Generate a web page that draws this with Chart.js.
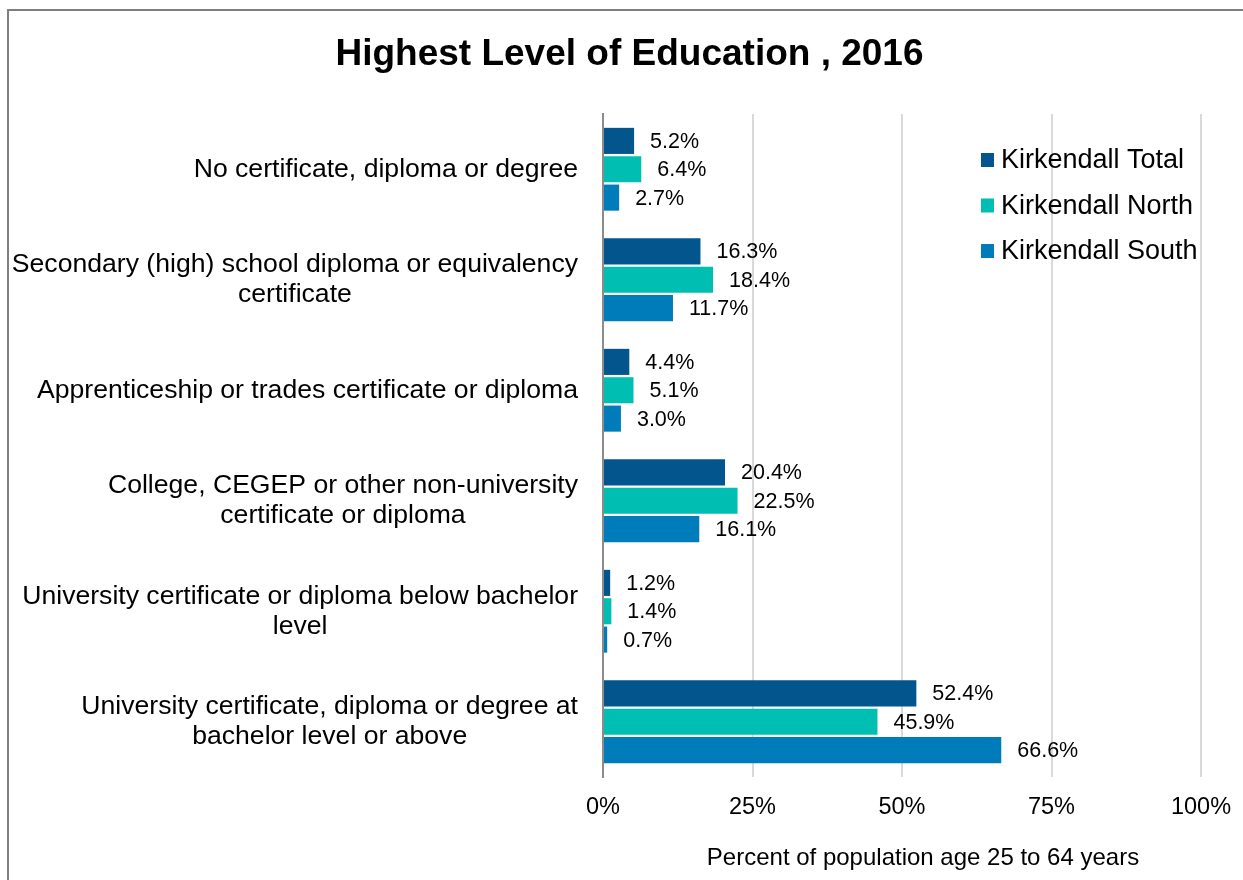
<!DOCTYPE html>
<html>
<head>
<meta charset="utf-8">
<title>Highest Level of Education, 2016</title>
<script src="https://cdn.jsdelivr.net/npm/chart.js@4.4.1/dist/chart.umd.min.js"></script>
<style>
  html, body { margin: 0; padding: 0; background: #fff; }
  #wrap { position: relative; width: 1243px; height: 880px; overflow: hidden; }
  #frame { position: absolute; left: 7px; top: 9px; width: 1400px; height: 1000px;
           border-left: 2px solid #7f7f7f; border-top: 2px solid #7f7f7f; }
  canvas { position: absolute; left: 0; top: 0; }
</style>
</head>
<body>
<div id="wrap">
  <div id="frame"></div>
  <canvas id="eduChart" width="1243" height="880"></canvas>
</div>
<script>
/******************************************************************
DATA
******************************************************************/

var categories = [
  ["No certificate, diploma or degree"],
  ["Secondary (high) school diploma or equivalency", "certificate"],
  ["Apprenticeship or trades certificate or diploma"],
  ["College, CEGEP or other non-university", "certificate or diploma"],
  ["University certificate or diploma below bachelor", "level"],
  ["University certificate, diploma or degree at", "bachelor level or above"]
];

var seriesNames = ["Kirkendall Total", "Kirkendall North", "Kirkendall South"];
var seriesColors = ["#02568d", "#00bfb2", "#007cbb"];

var totalValues = [5.2, 16.3, 4.4, 20.4, 1.2, 52.4];
var northValues = [6.4, 18.4, 5.1, 22.5, 1.4, 45.9];
var southValues = [2.7, 11.7, 3.0, 16.1, 0.7, 66.6];

var xTicks = [0, 25, 50, 75, 100];

var chartTitle = "Highest Level of Education , 2016";
var xTitle = "Percent of population age 25 to 64 years";

var FONT = "Arial, 'Liberation Sans', sans-serif";


/******************************************************************
PLUGINS
******************************************************************/

// category labels: each block right aligned, lines centred inside the block
var catLabels = {
  id: "catLabels",
  afterDraw: function (chart) {
    var ctx = chart.ctx;
    var yScale = chart.scales.y;
    var right = chart.chartArea.left - 25;
    ctx.save();
    ctx.font = "26.6px " + FONT;
    ctx.fillStyle = "#000";
    ctx.textAlign = "center";
    ctx.textBaseline = "middle";
    categories.forEach(function (lines, i) {
      var maxW = 0;
      lines.forEach(function (l) { maxW = Math.max(maxW, ctx.measureText(l).width); });
      var cx = right - maxW / 2;
      var cy = yScale.getPixelForValue(i);
      var lh = 30;
      var y0 = cy - (lines.length - 1) * lh / 2;
      lines.forEach(function (l, k) { ctx.fillText(l, cx, y0 + k * lh); });
    });
    ctx.restore();
  }
};

// value labels at the end of each bar
var valueLabels = {
  id: "valueLabels",
  afterDatasetsDraw: function (chart) {
    var ctx = chart.ctx;
    ctx.save();
    ctx.font = "21.5px " + FONT;
    ctx.fillStyle = "#000";
    ctx.textAlign = "left";
    ctx.textBaseline = "middle";
    chart.data.datasets.forEach(function (ds, di) {
      chart.getDatasetMeta(di).data.forEach(function (bar, i) {
        ctx.fillText(ds.data[i].toFixed(1) + "%", bar.x + 16, bar.y + 1);
      });
    });
    ctx.restore();
  }
};

// legend inside the plot area, top right
var innerLegend = {
  id: "innerLegend",
  afterDraw: function (chart) {
    var ctx = chart.ctx;
    var area = chart.chartArea;
    var x = area.right - 220;
    var y = area.top + 46;
    ctx.save();
    ctx.font = "27px " + FONT;
    ctx.textAlign = "left";
    ctx.textBaseline = "middle";
    chart.data.datasets.forEach(function (ds, i) {
      var yy = y + i * 45.5;
      ctx.fillStyle = ds.backgroundColor;
      ctx.fillRect(x, yy - 7, 13, 14);
      ctx.fillStyle = "#000";
      ctx.fillText(ds.label, x + 20, yy + 1);
    });
    ctx.restore();
  }
};

// x axis title
var xAxisTitle = {
  id: "xAxisTitle",
  afterDraw: function (chart) {
    var ctx = chart.ctx;
    var area = chart.chartArea;
    ctx.save();
    ctx.font = "24px " + FONT;
    ctx.fillStyle = "#000";
    ctx.textAlign = "center";
    ctx.textBaseline = "middle";
    ctx.fillText(xTitle, (area.left + area.right) / 2 + 21, 858);
    ctx.restore();
  }
};


/******************************************************************
CHART
******************************************************************/

var ctx = document.getElementById("eduChart").getContext("2d");

var datasets = [totalValues, northValues, southValues].map(function (vals, i) {
  return {
    label: seriesNames[i],
    data: vals,
    backgroundColor: seriesColors[i],
    borderWidth: 0,
    categoryPercentage: 0.77,
    barPercentage: 0.92
  };
});

var eduChart = new Chart(ctx, {
  type: "bar",
  data: {
    labels: categories.map(function (c) { return c.join(" "); }),
    datasets: datasets
  },
  options: {
    indexAxis: "y",
    responsive: false,
    animation: false,
    layout: { padding: { left: 58, right: 42, top: 0, bottom: 0 } },
    plugins: {
      legend: { display: false },
      tooltip: { enabled: false },
      title: {
        display: true,
        text: chartTitle,
        color: "#000",
        font: { family: FONT, size: 37, weight: "bold" },
        padding: { top: 33, bottom: 36.6 }
      }
    },
    scales: {
      x: {
        min: 0,
        max: 100,
        afterBuildTicks: function (scale) {
          scale.ticks = xTicks.map(function (v) { return { value: v }; });
        },
        afterFit: function (scale) {
          scale.height = 103;
          scale.paddingLeft = 0;
          scale.paddingRight = 0;
        },
        grid: { color: "#d9d9d9", lineWidth: 2, drawTicks: false },
        border: { display: false },
        ticks: {
          color: "#000",
          padding: 16,
          font: { family: FONT, size: 23.5 },
          callback: function (v) { return v + "%"; }
        }
      },
      y: {
        afterFit: function (scale) { scale.width = 545; },
        grid: { display: false, drawTicks: false },
        border: { display: true, color: "#8c8c8c", width: 2 },
        ticks: { display: false }
      }
    }
  },
  plugins: [catLabels, valueLabels, innerLegend, xAxisTitle]
});
</script>
</body>
</html>
